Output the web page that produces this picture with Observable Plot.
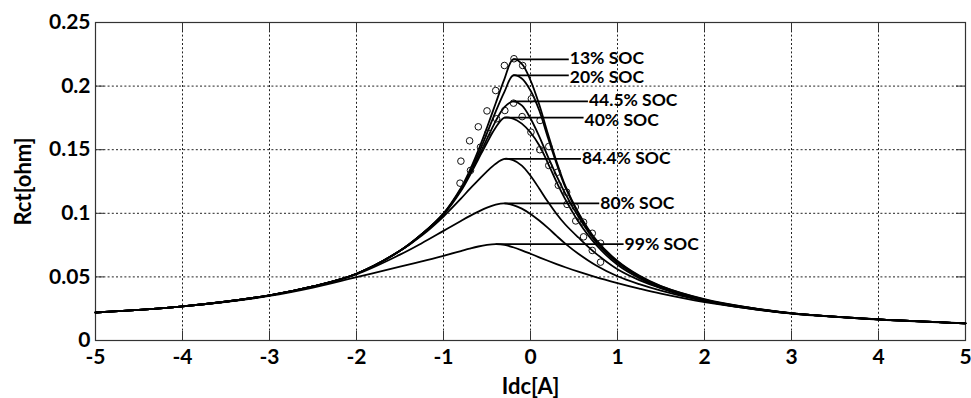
<!DOCTYPE html>
<html>
<head>
<meta charset="utf-8">
<script src="https://cdn.jsdelivr.net/npm/d3@7"></script>
<script src="https://cdn.jsdelivr.net/npm/@observablehq/plot@0.6"></script>
<style>
  html, body { margin: 0; padding: 0; background: #fff; }
  #chart svg { display: block; }
</style>
</head>
<body>
<div id="chart"></div>
<script>
// Charge-transfer resistance Rct versus DC current Idc, one fitted curve per state of charge.
const idc = [-5, -4, -3, -2.5, -2, -1.5, -1.25, -1, -0.8, -0.7, -0.6, -0.5, -0.4, -0.3, -0.2, -0.1,
             0, 0.1, 0.2, 0.3, 0.4, 0.55, 0.75, 1, 1.25, 1.5, 2, 2.5, 3, 4, 5];

const soc13  = [0.022, 0.0268, 0.0355, 0.0425, 0.0525, 0.0705, 0.0835, 0.1, 0.12, 0.1335, 0.1495, 0.1675, 0.1865, 0.2055, 0.221, 0.2175,
                0.2045, 0.1855, 0.1625, 0.1405, 0.1215, 0.1005, 0.0795, 0.0625, 0.051, 0.0428, 0.0325, 0.026, 0.0215, 0.0166, 0.0135];
const soc20  = [0.022, 0.0268, 0.0355, 0.0425, 0.0525, 0.0705, 0.0835, 0.0995, 0.119, 0.1315, 0.1465, 0.163, 0.18, 0.1955, 0.2085, 0.206,
                0.1965, 0.181, 0.1595, 0.139, 0.1205, 0.0998, 0.0785, 0.062, 0.0505, 0.0425, 0.0322, 0.026, 0.0215, 0.0166, 0.0135];
const soc445 = [0.022, 0.0268, 0.0355, 0.0425, 0.0525, 0.0705, 0.0835, 0.0995, 0.1185, 0.1305, 0.144, 0.1585, 0.1725, 0.1835, 0.188, 0.1848,
                0.1745, 0.1605, 0.1445, 0.1295, 0.1155, 0.0975, 0.0775, 0.061, 0.05, 0.0418, 0.0318, 0.0258, 0.0214, 0.0166, 0.0135];
const soc40  = [0.022, 0.0268, 0.0355, 0.0425, 0.0525, 0.0705, 0.0835, 0.099, 0.1175, 0.1295, 0.1425, 0.1555, 0.1675, 0.1752, 0.1745, 0.1705,
                0.1635, 0.1535, 0.1395, 0.1245, 0.111, 0.0935, 0.0755, 0.0595, 0.049, 0.0412, 0.0312, 0.0255, 0.0213, 0.0166, 0.0135];
const soc844 = [0.022, 0.0268, 0.0355, 0.0425, 0.0525, 0.0705, 0.0825, 0.0975, 0.1115, 0.119, 0.126, 0.133, 0.139, 0.1428, 0.1418, 0.1375,
                0.1295, 0.1195, 0.109, 0.0995, 0.0912, 0.081, 0.0685, 0.056, 0.0475, 0.0412, 0.0318, 0.0258, 0.0214, 0.0166, 0.0135];
const soc80  = [0.022, 0.0268, 0.0355, 0.0425, 0.052, 0.0675, 0.0765, 0.0862, 0.094, 0.0978, 0.1013, 0.1045, 0.1068, 0.1078, 0.1065, 0.1037,
                0.0995, 0.0943, 0.0885, 0.0822, 0.0762, 0.0682, 0.0592, 0.0505, 0.0443, 0.0392, 0.031, 0.0253, 0.0212, 0.0165, 0.0135];
const soc99  = [0.022, 0.0268, 0.035, 0.0415, 0.0498, 0.058, 0.0622, 0.0665, 0.0703, 0.0722, 0.0739, 0.0751, 0.0757, 0.0752, 0.0733, 0.0709,
                0.0682, 0.0654, 0.0627, 0.0601, 0.0576, 0.0541, 0.0499, 0.0452, 0.0408, 0.0368, 0.0302, 0.0253, 0.0213, 0.0166, 0.0135];

const socNames  = ["13% SOC", "20% SOC", "44.5% SOC", "40% SOC", "84.4% SOC", "80% SOC", "99% SOC"];
const socValues = [soc13, soc20, soc445, soc40, soc844, soc80, soc99];
// Idc where each SOC label text begins, and a small vertical nudge of the text
const labelX    = [0.44, 0.44, 0.66, 0.61, 0.58, 0.79, 1.07];
const labelDy   = [-1, 2, -1, 3, 0, 0, 0];

// Measured points (open circles)
const measIdcA = [-0.8, -0.7, -0.6, -0.5, -0.4, -0.3, -0.19, -0.09, 0.01, 0.11, 0.21, 0.31, 0.415, 0.515, 0.61, 0.71, 0.805];
const measRctA = [0.141, 0.157, 0.168, 0.1805, 0.1965, 0.2162, 0.2215, 0.2162, 0.190, 0.173, 0.1525, 0.1323, 0.1166, 0.105, 0.093, 0.0843, 0.0765];
const measIdcB = [-0.81, -0.69, -0.575, -0.49, -0.39, -0.295, -0.195, -0.096, 0.005, 0.107, 0.21, 0.32, 0.42, 0.52, 0.61, 0.71, 0.805];
const measRctB = [0.1237, 0.1337, 0.152, 0.163, 0.1743, 0.1808, 0.1866, 0.176, 0.1638, 0.150, 0.1376, 0.122, 0.107, 0.094, 0.0815, 0.0708, 0.0616];

const xTicks = [-5, -4, -3, -2, -1, 0, 1, 2, 3, 4, 5];
const yTicks = [0, 0.05, 0.1, 0.15, 0.2, 0.25];

const rows = [];
socNames.forEach((name, i) => idc.forEach((x, j) => rows.push({soc: name, idc: x, rct: socValues[i][j]})));

const meas = [
  ...measIdcA.map((x, i) => ({idc: x, rct: measRctA[i]})),
  ...measIdcB.map((x, i) => ({idc: x, rct: measRctB[i]}))
];

// Leader line from each curve's peak to its label
const peaks = socNames.map((name, i) => {
  const j = d3.maxIndex(socValues[i]);
  return {soc: name, x1: idc[j], x2: labelX[i], y: socValues[i][j], dy: labelDy[i]};
});

const bold = {fontWeight: "bold"};
const chart = Plot.plot({
  width: 971,
  height: 398,
  marginLeft: 95,
  marginRight: 6,
  marginTop: 22,
  marginBottom: 58,
  style: {fontFamily: "Lato, 'Open Sans', sans-serif", color: "#000", background: "#fff"},
  x: {domain: [-5, 5]},
  y: {domain: [0, 0.25]},
  marks: [
    Plot.gridX(xTicks.slice(1, -1), {stroke: "#222", strokeOpacity: 1, strokeDasharray: "2,2.2"}),
    Plot.gridY(yTicks.slice(1, -1), {stroke: "#222", strokeOpacity: 1, strokeDasharray: "2,2.2"}),
    // inward tick marks on all four sides
    Plot.tickX(xTicks, {x: d => d, insetTop: 309, stroke: "#333"}),
    Plot.tickX(xTicks, {x: d => d, insetBottom: 309, stroke: "#333"}),
    Plot.tickY(yTicks, {y: d => d, insetRight: 861, stroke: "#333"}),
    Plot.tickY(yTicks, {y: d => d, insetLeft: 861, stroke: "#333"}),
    Plot.frame({stroke: "#333", strokeWidth: 1.2}),
    Plot.axisX(xTicks, {tickSize: 0, tickPadding: 9, fontSize: 21, label: null,
                        tickFormat: d => String(d), ...bold}),
    Plot.axisY(yTicks, {tickSize: 0, tickPadding: 5, fontSize: 21, label: null,
                        tickFormat: d => String(+d.toFixed(2)), ...bold}),
    Plot.line(rows, {x: "idc", y: "rct", z: "soc", curve: "catmull-rom", stroke: "#000", strokeWidth: 1.8}),
    Plot.dot(meas, {x: "idc", y: "rct", r: 3.3, stroke: "#111", strokeWidth: 1, fill: "none"}),
    Plot.link(peaks, {x1: "x1", y1: "y", x2: "x2", y2: "y", stroke: "#000", strokeWidth: 1.8}),
    Plot.text(peaks, {x: "x2", y: "y", text: "soc", textAnchor: "start", dx: 1, fontSize: 17.5, fill: "#000", ...bold,
                      render: (index, scales, values, dims, ctx, next) => {
                        const g = next(index, scales, values, dims, ctx);
                        d3.select(g).selectAll("text").attr("transform", function(_, k) {
                          const t = d3.select(this).attr("transform") || "";
                          return t + ` translate(0,${peaks[index[k]].dy})`;
                        });
                        return g;
                      }}),
    Plot.text(["Idc[A]"], {frameAnchor: "bottom", lineAnchor: "middle", textAnchor: "middle", dy: 46, fontSize: 22, fill: "#000", ...bold}),
    Plot.text(["Rct[ohm]"], {frameAnchor: "left", lineAnchor: "middle", textAnchor: "middle", dx: -72, rotate: -90, fontSize: 22, fill: "#000", ...bold})
  ]
});
document.getElementById("chart").append(chart);
</script>
</body>
</html>
